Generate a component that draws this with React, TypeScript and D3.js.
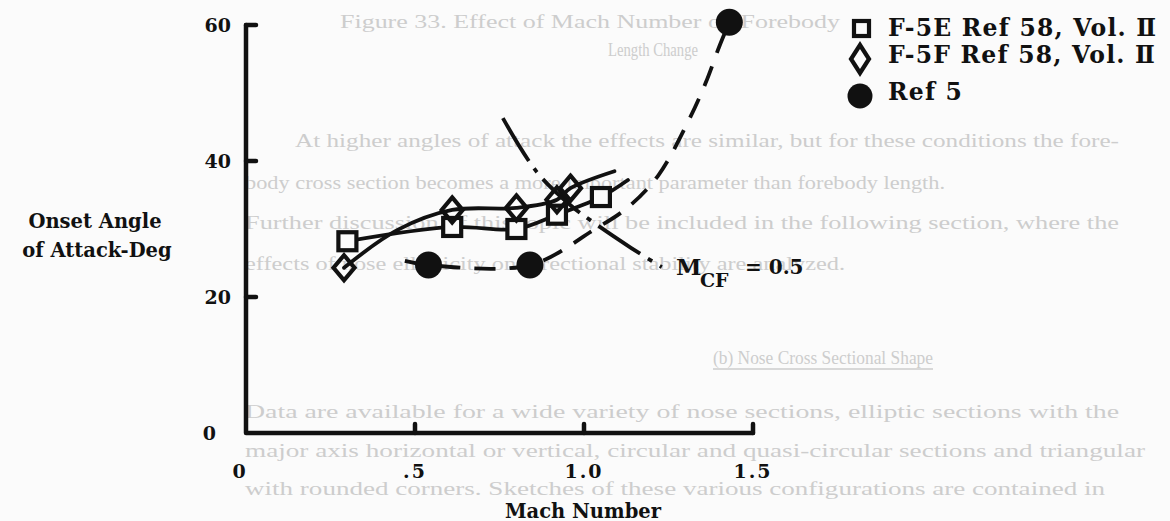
import * as d3 from 'd3'

// F-5E (squares), Ref 58 Vol. II
const machE = [0.30, 0.61, 0.80, 0.92, 1.05]
const alphaE = [28.2, 30.3, 30.0, 32.1, 34.7]
// faired line through the squares, runs on past the last one
const fairEMach = [0.30, 0.61, 0.80, 0.92, 1.05, 1.13]
const fairEAlpha = [28.2, 30.3, 30.0, 32.1, 34.7, 37.2]

// F-5F (diamonds), Ref 58 Vol. II
const machF = [0.29, 0.61, 0.80, 0.92, 0.96]
const alphaF = [24.3, 32.8, 33.1, 34.3, 36.0]
const fairFMach = [0.29, 0.45, 0.61, 0.80, 0.92, 0.96, 1.09]
const fairFAlpha = [24.3, 29.9, 32.8, 33.1, 34.3, 36.0, 38.5]

// Ref 5 (filled circles), dashed fairing
const machR = [0.54, 0.84, 1.43]
const alphaR = [24.7, 24.7, 60.4]
const fairRMach = [0.47, 0.54, 0.84, 1.03, 1.13, 1.22, 1.31, 1.36, 1.40, 1.43]
const fairRAlpha = [25.3, 24.7, 24.7, 29.9, 33.2, 37.9, 46.0, 51.5, 56.8, 60.4]

// M_CF = 0.5 boundary
const mcfMach = [0.76, 0.86, 0.96, 1.03, 1.14, 1.23]
const mcfAlpha = [46.3, 38.4, 33.5, 30.9, 27.2, 24.4]

const xTicks = [0, 0.5, 1.0, 1.5]
const xTickLabels = ['0', '.5', '1.0', '1.5']
const yTicks = [0, 20, 40, 60]
const legendLabels = ['F-5E Ref 58, Vol. \u2161', 'F-5F Ref 58, Vol. \u2161', 'Ref 5']

// faint show-through text of the facing page
const ghostLines = [
  'Figure 33.  Effect of Mach Number on Forebody',
  'Length Change',
  'At higher angles of attack the effects are similar, but for these conditions the fore-',
  'body cross section becomes a more important parameter than forebody length.',
  'Further discussion of this topic will be included in the following section, where the',
  'effects of nose ellipticity on directional stability are analyzed.',
  '(b)  Nose Cross Sectional Shape',
  'Data are available for a wide variety of nose sections, elliptic sections with the',
  'major axis horizontal or vertical, circular and quasi-circular sections and triangular',
  'with rounded corners.  Sketches of these various configurations are contained in',
]

const W = 1170
const H = 521
const ink = '#111'
const paper = '#fbfbfb'
const font = '"DejaVu Serif", "Liberation Serif", serif'

const x = d3.scaleLinear().domain([0, 1.5]).range([246, 753])
const y = d3.scaleLinear().domain([0, 60]).range([433, 25])

const zip = (a: number[], b: number[]) => a.map((v, i) => [v, b[i]] as [number, number])

const smooth = d3.line<[number, number]>()
  .x(d => x(d[0]))
  .y(d => y(d[1]))
  .curve(d3.curveCatmullRom.alpha(0.5))

const diamond = (cx: number, cy: number, hw: number, hh: number) =>
  `M${cx},${cy - hh}L${cx + hw},${cy}L${cx},${cy + hh}L${cx - hw},${cy}Z`

// ghost text placement: [x, baseline, width]
const ghostPos: [number, number, number][] = [
  [340, 28, 500],
  [608, 56, 90],
  [295, 147, 824],
  [245, 189, 700],
  [245, 229, 874],
  [245, 270, 600],
  [713, 364, 220],
  [245, 418, 874],
  [245, 457, 900],
  [245, 495, 860],
]

export default function App() {
  return (
    <svg width={W} height={H} style={{ position: 'absolute', left: 0, top: 0, background: paper }}>
      <g fontFamily='"Liberation Serif", serif' fontSize={19} fill="#cdcdcd">
        {ghostLines.map((t, i) => (
          <text key={i} x={ghostPos[i][0]} y={ghostPos[i][1]} textLength={ghostPos[i][2]} lengthAdjust="spacingAndGlyphs">{t}</text>
        ))}
        <line x1={713} x2={933} y1={369} y2={369} stroke="#cdcdcd" strokeWidth={1.5} />
      </g>

      {/* axes */}
      <g stroke={ink} strokeWidth={4.5} fill="none" strokeLinecap="round">
        <path d={`M${x(0)},${y(60)}V${y(0)}H${x(1.5)}`} strokeLinejoin="round" />
        {yTicks.filter(v => v > 0).map(v => (
          <line key={v} x1={x(0)} x2={x(0) + 10} y1={y(v)} y2={y(v)} />
        ))}
        {xTicks.filter(v => v > 0).map(v => (
          <line key={v} x1={x(v)} x2={x(v)} y1={y(0)} y2={y(0) - 9} />
        ))}
      </g>

      <g fontFamily={font} fontWeight="bold" fill={ink}>
        {yTicks.map(v => (
          <text key={v} x={v === 0 ? 216 : 231} y={y(v) + 7} fontSize={19} textAnchor="end">{v}</text>
        ))}
        {xTicks.map((v, i) => (
          <text key={v} x={x(v) - (v === 0 ? 6 : 0)} y={478} fontSize={19} textAnchor="middle" letterSpacing={2}>{xTickLabels[i]}</text>
        ))}
        <text x={583} y={518} fontSize={19.5} textAnchor="middle">Mach Number</text>
        <text x={95} y={228} fontSize={19.5} textAnchor="middle">Onset Angle</text>
        <text x={97} y={257} fontSize={19.5} textAnchor="middle">of Attack-Deg</text>
        <text x={676} y={275} fontSize={23}>M</text>
        <text x={700} y={287} fontSize={19}>CF</text>
        <text x={745} y={274} fontSize={20}>= 0.5</text>
      </g>

      {/* faired curves */}
      <g fill="none" stroke={ink} strokeWidth={3.8} strokeLinecap="round">
        <path d={smooth(zip(fairEMach, fairEAlpha))!} />
        <path d={smooth(zip(fairFMach, fairFAlpha))!} />
        <path d={smooth(zip(fairRMach, fairRAlpha))!} strokeDasharray="21,14" strokeLinecap="butt" />
        <path d={smooth(zip(mcfMach, mcfAlpha))!} strokeDasharray="50,9,5,9" strokeLinecap="butt" />
      </g>

      {/* markers */}
      <g stroke={ink} strokeWidth={4.2} fill={paper}>
        {machE.map((m, i) => (
          <rect key={i} x={x(m) - 9} y={y(alphaE[i]) - 9} width={18} height={18} />
        ))}
        {machF.map((m, i) => (
          <path key={i} d={diamond(x(m), y(alphaF[i]), 10.5, 12.5)} fill="none" strokeLinejoin="miter" />
        ))}
      </g>
      <g fill={ink}>
        {machR.map((m, i) => (
          <circle key={i} cx={x(m)} cy={y(alphaR[i])} r={13.5} />
        ))}
      </g>

      {/* legend */}
      <g>
        <rect x={854} y={21} width={15} height={15} fill="none" stroke={ink} strokeWidth={4.2} />
        <path d={diamond(860, 59, 9, 14)} fill="none" stroke={ink} strokeWidth={4.2} />
        <circle cx={860} cy={96} r={12.5} fill={ink} />
        <g fontFamily={font} fontWeight="bold" fontSize={23.5} fill={ink} letterSpacing={1.2}>
          {legendLabels.map((t, i) => (
            <text key={i} x={888} y={[36, 63, 100][i]}>{t}</text>
          ))}
        </g>
      </g>
    </svg>
  )
}
